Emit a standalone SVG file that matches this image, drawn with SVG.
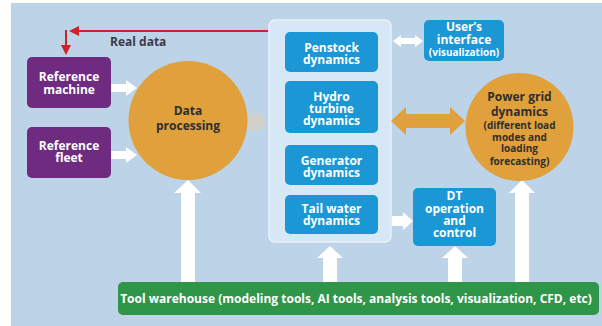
<svg xmlns="http://www.w3.org/2000/svg" width="602" height="326" viewBox="0 0 602 326">
<style>
  .t { font-family: "Open Sans", "Liberation Sans", sans-serif; font-weight: bold; font-size: 12px; text-anchor: middle; }
  .w { fill: #ffffff; }
  .d { fill: #2e2e2e; }
  .s { font-size: 10px; }
  .blue { fill: #1a97d4; }
  .purple { fill: #6e2b7f; }
  .orange { fill: #e0a03b; }
  .wa { fill: #ffffff; }
</style>
<rect x="0" y="0" width="602" height="326" fill="#ffffff"/>
<rect x="11" y="3" width="591" height="323" fill="#bdd3e7"/>

<g id="container">
  <rect x="269" y="20" width="122" height="222" rx="6" fill="#d6e8f5" stroke="#e8f2fa" stroke-width="1.5"/>
</g>

<g id="connectors">
  <line x1="268" y1="31" x2="77" y2="31" stroke="#cc2229" stroke-width="2"/>
  <polygon points="69,31 79,26 79,36" fill="#cc2229"/>
  <line x1="66" y1="30" x2="66" y2="47" stroke="#cc2229" stroke-width="2"/>
  <polygon points="66,55 61,45 71,45" fill="#cc2229"/>
  <path class="wa" d="M111,84 H126 V80 L137,88 L126,96 V92 H111 Z"/>
  <path class="wa" d="M111,151 H126 V147 L137,155 L126,163 V159 H111 Z"/>
  <circle cx="256" cy="122" r="9" fill="#d3cfcb"/>
  <path class="wa" d="M393,41 L401,35 V38 H415 V35 L423,41 L415,47 V44 H401 V47 Z"/>
  <path fill="#e0a03b" d="M391,121 L406,107 V114 H450 V107 L465,121 L450,135 V128 H406 V135 Z"/>
  <path class="wa" d="M392,216 H403 V212 L413,221 L403,230 V226 H392 Z"/>
  <path class="wa" d="M181,283 V193 H174 L188,180 L201,193 H195 V283 Z"/>
  <path class="wa" d="M323,283 V258 H317 L330,246 L343,258 H337 V283 Z"/>
  <path class="wa" d="M448,283 V258 H442 L455,246 L468,258 H462 V283 Z"/>
  <path class="wa" d="M515,283 V193 H509 L522,180 L535,193 H529 V283 Z"/>
  <text x="110" y="46" class="t" style="text-anchor:start" fill="#3a3a48">Real data</text>
</g>

<g id="ref-machine">
  <rect x="27" y="57" width="84" height="51" rx="5" class="purple"/>
  <text class="t w"><tspan x="69" y="81">Reference</tspan><tspan x="69" y="94">machine</tspan></text>
</g>
<g id="ref-fleet">
  <rect x="27" y="127" width="84" height="51" rx="5" class="purple"/>
  <text class="t w"><tspan x="69" y="150">Reference</tspan><tspan x="69" y="162">fleet</tspan></text>
</g>
<g id="data-processing">
  <circle cx="188" cy="120.5" r="59.5" class="orange"/>
  <text class="t d"><tspan x="188" y="115">Data</tspan><tspan x="188" y="130">processing</tspan></text>
</g>
<g id="penstock">
  <rect x="285" y="32" width="93" height="40" rx="5" class="blue"/>
  <text class="t w"><tspan x="331.5" y="52">Penstock</tspan><tspan x="331.5" y="64">dynamics</tspan></text>
</g>
<g id="hydro-turbine">
  <rect x="285" y="81" width="93" height="52" rx="5" class="blue"/>
  <text class="t w"><tspan x="331.5" y="101">Hydro</tspan><tspan x="331.5" y="113">turbine</tspan><tspan x="331.5" y="125">dynamics</tspan></text>
</g>
<g id="generator">
  <rect x="285" y="145" width="93" height="40" rx="5" class="blue"/>
  <text class="t w"><tspan x="331.5" y="165">Generator</tspan><tspan x="331.5" y="177">dynamics</tspan></text>
</g>
<g id="tail-water">
  <rect x="285" y="195" width="93" height="39" rx="5" class="blue"/>
  <text class="t w"><tspan x="331.5" y="213">Tail water</tspan><tspan x="331.5" y="225">dynamics</tspan></text>
</g>
<g id="user-interface">
  <rect x="424" y="20" width="80" height="41" rx="5" class="blue"/>
  <text class="t w"><tspan x="464" y="31">User’s</tspan><tspan x="464" y="44">interface</tspan><tspan x="464" y="56" class="s">(visualization)</tspan></text>
</g>
<g id="power-grid">
  <circle cx="519.5" cy="127" r="54" class="orange"/>
  <text class="t d"><tspan x="519.5" y="101">Power grid</tspan><tspan x="519.5" y="116">dynamics</tspan><tspan class="s" x="519.5" y="129">(different load</tspan><tspan class="s" x="519.5" y="141">modes and</tspan><tspan class="s" x="519.5" y="152">loading</tspan><tspan class="s" x="519.5" y="165">forecasting)</tspan></text>
</g>
<g id="dt-operation">
  <rect x="413" y="188" width="83" height="58" rx="5" class="blue"/>
  <text class="t w"><tspan x="454.5" y="200">DT</tspan><tspan x="454.5" y="213">operation</tspan><tspan x="454.5" y="225">and</tspan><tspan x="454.5" y="237">control</tspan></text>
</g>
<g id="tool-warehouse">
  <rect x="118" y="282" width="481" height="33" rx="5" fill="#2f9548"/>
  <text class="t w" x="356" y="303">Tool warehouse (modeling tools, AI tools, analysis tools, visualization, CFD, etc)</text>
</g>
</svg>
